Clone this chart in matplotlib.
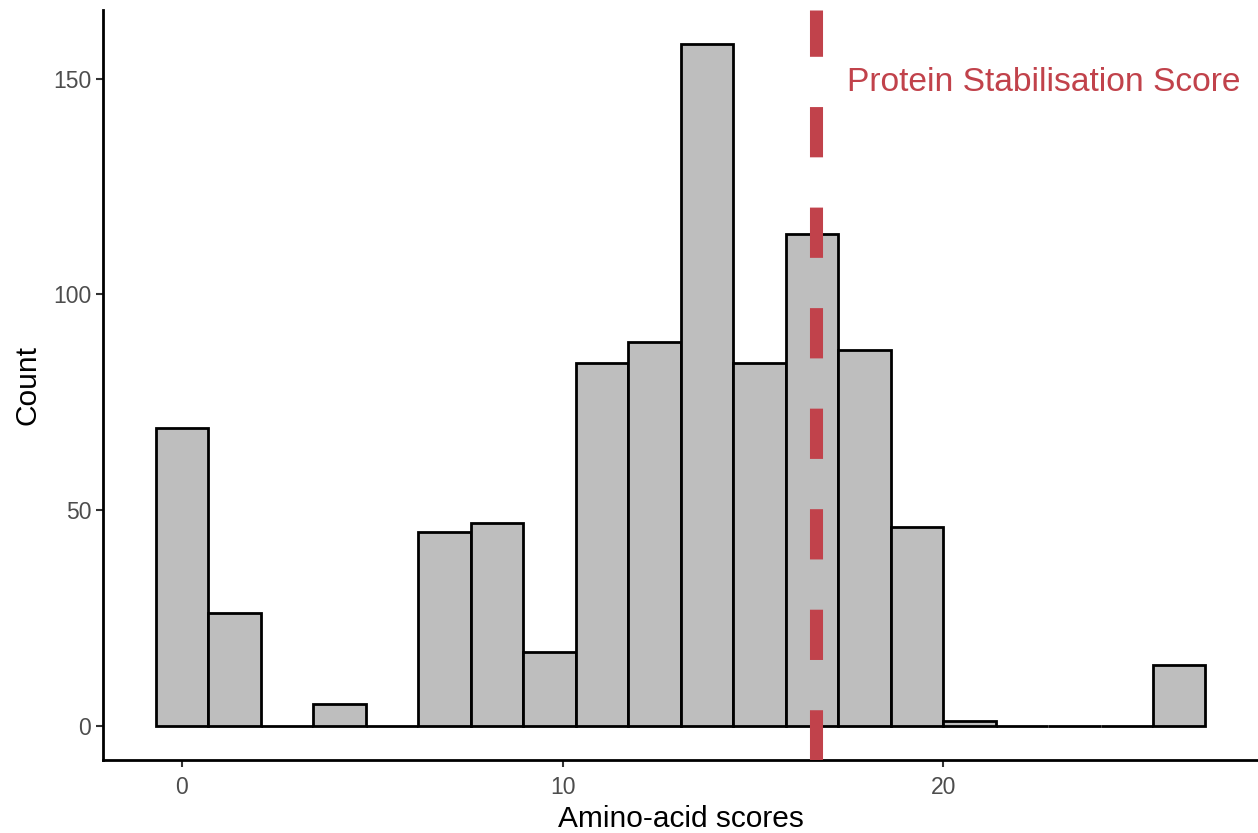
import numpy as np
import matplotlib.pyplot as plt

plt.rcParams['font.family'] = ['Liberation Sans', 'DejaVu Sans']

# histogram: 20 bins, first bin centred on 0
bin_width = 1.379
first_center = 0.0
counts = [69, 26, 0, 5, 0, 45, 47, 17, 84, 89, 158, 84, 114, 87, 46, 1, 0, 0, 0, 14]
stab_score = 16.67
stab_label = "Protein Stabilisation Score"

centers = first_center + bin_width * np.arange(len(counts))

fig = plt.figure(figsize=(12.58, 8.33), dpi=100)
ax = fig.add_axes([0.082, 0.088, 0.918, 0.9])

ax.bar(centers, counts, width=bin_width, color='#bebebe', edgecolor='black',
       linewidth=2.0, zorder=2)

ax.axvline(stab_score, color='#c1424b', linewidth=9.4, linestyle=(0, (3.85, 3.85)),
           dash_capstyle='butt', zorder=3)
ax.text(17.48, 147.2, stab_label, color='#c1424b', fontsize=24.2,
        ha='left', va='baseline')

ax.set_xlim(-2.07, 28.27)
ax.set_ylim(-7.9, 165.9)
ax.set_xticks([0, 10, 20])
ax.set_yticks([0, 50, 100, 150])

for s in ['top', 'right']:
    ax.spines[s].set_visible(False)
for s in ['left', 'bottom']:
    ax.spines[s].set_linewidth(2.0)

ax.tick_params(axis='both', length=5, width=1.5, color='#333333',
               labelsize=16.5, labelcolor='#4d4d4d')
ax.tick_params(axis='x', pad=7)
ax.set_xlabel("Amino-acid scores", fontsize=21.5, labelpad=4)
ax.set_ylabel("Count", fontsize=21.5, labelpad=8)

fig.savefig("out.png", dpi=100, facecolor='white')
